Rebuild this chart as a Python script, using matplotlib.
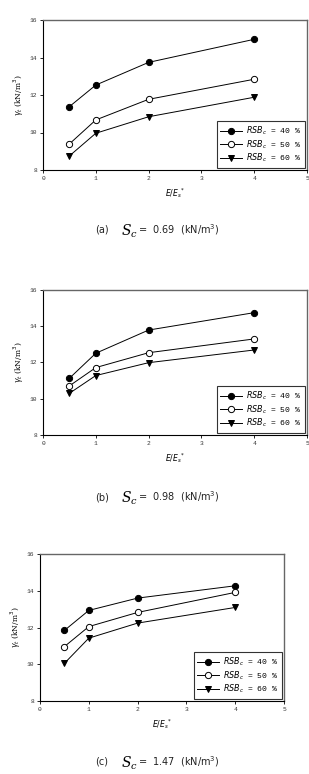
import matplotlib
matplotlib.use("Agg")
import matplotlib.pyplot as plt

x = [0.5, 1, 2, 4]
series_labels = ["40", "50", "60"]

a_40 = [11.38, 12.53, 13.74, 14.97]
a_50 = [9.39, 10.67, 11.77, 12.84]
a_60 = [8.75, 9.96, 10.84, 11.88]

b_40 = [11.13, 12.51, 13.79, 14.75]
b_50 = [10.71, 11.72, 12.54, 13.30]
b_60 = [10.30, 11.28, 11.99, 12.69]

c_40 = [11.84, 12.93, 13.60, 14.27]
c_50 = [10.96, 12.05, 12.82, 13.91]
c_60 = [10.05, 11.42, 12.24, 13.09]

panel_tags = ["(a)", "(b)", "(c)"]
panel_sc = ["0.69", "0.98", "1.47"]
x_ticks = [0, 1, 2, 3, 4, 5]
y_ticks = [8, 10, 12, 14, 16]

W, H = 309, 774
fig = plt.figure(figsize=(W / 100, H / 100), dpi=100)

# axes boxes in pixels: left, top, right, bottom
boxes = [(43, 20, 307, 170), (43, 290, 307, 435), (40, 554, 284, 701)]
caption_y = [230, 497, 762]
data = [(a_40, a_50, a_60), (b_40, b_50, b_60), (c_40, c_50, c_60)]
markers = [("o", "black"), ("o", "white"), ("v", "black")]

for i in range(3):
    l, t, r, b = boxes[i]
    ax = fig.add_axes([l / W, 1 - b / H, (r - l) / W, (b - t) / H])
    for s, (m, fc) in enumerate(markers):
        ax.plot(x, data[i][s], color="black", lw=0.7, marker=m, markersize=4.5,
                markerfacecolor=fc, markeredgecolor="black", markeredgewidth=0.7,
                label=r"$RSB_c$ = " + series_labels[s] + " %")
    ax.set_xlim(0, 5)
    ax.set_ylim(8, 16)
    ax.set_xticks(x_ticks)
    ax.set_yticks(y_ticks)
    ax.tick_params(direction="out", length=2, width=0.6, labelsize=4.5, pad=2,
                   labelcolor="#333333")
    for lab in ax.get_xticklabels() + ax.get_yticklabels():
        lab.set_family("Liberation Mono")
    for sp in ["left", "bottom"]:
        ax.spines[sp].set_linewidth(0.8)
        ax.spines[sp].set_color("black")
    for sp in ["top", "right"]:
        ax.spines[sp].set_linewidth(1.0)
        ax.spines[sp].set_color("#666666")
    ax.set_xlabel(r"$E/E_s{}^{*}$", fontsize=5.5, labelpad=4)
    ax.set_ylabel(r"$\gamma_t$ (kN/m$^3$)", fontsize=5.5, labelpad=3, family="DejaVu Serif")
    leg = ax.legend(loc="lower right", frameon=True, fancybox=False,
                    edgecolor="black", borderpad=0.45, handlelength=2.7,
                    labelspacing=0.15, borderaxespad=0.25, handletextpad=0.5,
                    prop={"family": "Liberation Mono", "size": 5.8})
    leg.get_frame().set_linewidth(0.8)

    cy = 1 - caption_y[i] / H
    fig.text(95 / W, cy, panel_tags[i], fontsize=7, va="center", ha="left",
             family="DejaVu Sans", color="#222222")
    fig.text(121 / W, cy - 0.002, r"$S_c$", fontsize=10, va="center", ha="left",
             family="DejaVu Serif", math_fontfamily="dejavuserif")
    fig.text(138 / W, cy, "=  " + panel_sc[i] + "  (kN/m$^3$)", fontsize=7,
             va="center", ha="left", family="DejaVu Sans", color="#222222")

fig.savefig("out.png", dpi=100)
